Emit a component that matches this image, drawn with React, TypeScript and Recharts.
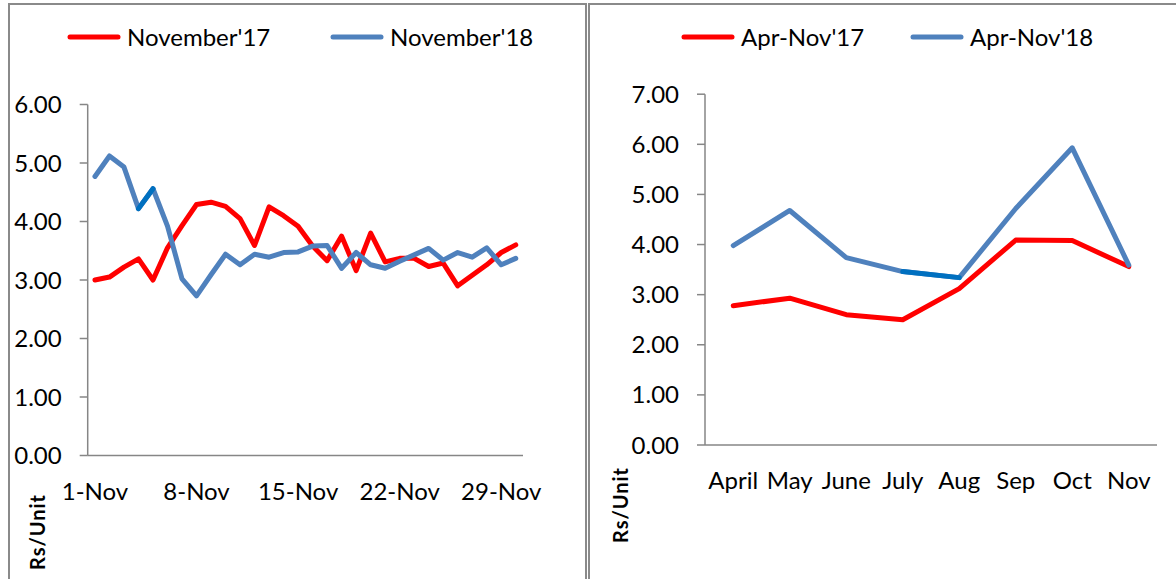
import React from 'react';
import { LineChart, Line, XAxis, YAxis, Legend } from 'recharts';

// daily tariff, November (Rs/Unit)
const novDays = [
    '1-Nov', '2-Nov', '3-Nov', '4-Nov', '5-Nov', '6-Nov', '7-Nov', '8-Nov', '9-Nov', '10-Nov',
    '11-Nov', '12-Nov', '13-Nov', '14-Nov', '15-Nov', '16-Nov', '17-Nov', '18-Nov', '19-Nov', '20-Nov',
    '21-Nov', '22-Nov', '23-Nov', '24-Nov', '25-Nov', '26-Nov', '27-Nov', '28-Nov', '29-Nov', '30-Nov'
];
const nov17 = [
    3.00, 3.05, 3.22, 3.36, 3.00, 3.55, 3.93, 4.29, 4.33, 4.26,
    4.05, 3.59, 4.25, 4.10, 3.92, 3.58, 3.33, 3.75, 3.16, 3.80,
    3.31, 3.37, 3.37, 3.23, 3.29, 2.90, 3.08, 3.26, 3.47, 3.60
];
const nov18 = [
    4.77, 5.12, 4.93, 4.22, 4.56, 3.92, 3.02, 2.73, 3.09, 3.44,
    3.26, 3.44, 3.39, 3.47, 3.48, 3.58, 3.59, 3.20, 3.47, 3.26,
    3.20, 3.32, 3.43, 3.54, 3.34, 3.47, 3.39, 3.55, 3.26, 3.37
];
const novTickMarks = [0, 7, 14, 21, 28];
const novYTicks = [0, 1, 2, 3, 4, 5, 6];

// monthly average, April - November
const months = ['April', 'May', 'June', 'July', 'Aug', 'Sep', 'Oct', 'Nov'];
const aprNov17 = [2.78, 2.93, 2.60, 2.50, 3.12, 4.09, 4.08, 3.56];
const aprNov18 = [3.98, 4.68, 3.74, 3.46, 3.34, 4.72, 5.93, 3.59];
const monthTickMarks = [0, 1, 2, 3, 4, 5, 6, 7, 8];
const monthYTicks = [0, 1, 2, 3, 4, 5, 6, 7];

// segment excel drew in a darker blue
const darkSegment = [3, 4];

const AXIS_GREY = '#868686';
const RED = '#FF0000';
const BLUE = '#4F81BD';
const DARK_BLUE = '#0070C0';
const FONT = 'Lato, "Open Sans", sans-serif';

interface Row {
    label: string;
    prev: number;
    curr: number;
    seg: number | null;
}

const buildRows = (labels: string[], prev: number[], curr: number[]): Row[] =>
    labels.map((label, i) => ({
        label,
        prev: prev[i],
        curr: curr[i],
        seg: darkSegment.includes(i) ? curr[i] : null
    }));

const LegendRow = ({ payload, slot }: { payload?: any[]; slot: number }) => (
    <div style={{ display: 'flex', fontFamily: FONT }}>
        {(payload || [])
            .filter((item) => item.type !== 'none')
            .map((item) => (
                <div key={item.value} style={{ width: slot, display: 'flex', alignItems: 'center', whiteSpace: 'nowrap' }}>
                    <svg width={54} height={8}>
                        <line x1={3} y1={4} x2={51} y2={4} stroke={item.color} strokeWidth={5} strokeLinecap="round" />
                    </svg>
                    <span style={{ marginLeft: 6, fontSize: 24, color: '#000', lineHeight: '30px' }}>{item.value}</span>
                </div>
            ))}
    </div>
);

interface PanelProps {
    rows: Row[];
    width: number;
    height: number;
    margin: { top: number; right: number; bottom: number; left: number };
    yTicks: number[];
    tickMarks: number[];
    labelInterval: number;
    names: [string, string];
    legendLeft: number;
    legendSlot: number;
}

const PricePanel: React.FC<PanelProps> = (p) => {
    const yMax = p.yTicks[p.yTicks.length - 1];
    return (
        <LineChart width={p.width} height={p.height} data={p.rows} margin={p.margin}>
            <XAxis
                xAxisId="b_cat"
                dataKey="label"
                type="category"
                scale="band"
                interval={p.labelInterval}
                axisLine={false}
                tickLine={false}
                tickSize={0}
                tickMargin={26}
                height={59}
                tick={{ fill: '#000', fontSize: 24, fontFamily: FONT }}
            />
            <XAxis
                xAxisId="a_marks"
                type="number"
                domain={[0, p.rows.length]}
                ticks={p.tickMarks}
                tick={false}
                tickSize={8}
                height={1}
                allowDataOverflow
                axisLine={{ stroke: AXIS_GREY, strokeWidth: 1.5 }}
                tickLine={{ stroke: AXIS_GREY, strokeWidth: 1.5 }}
            />
            <YAxis
                domain={[0, yMax]}
                ticks={p.yTicks}
                width={80}
                tickSize={8}
                tickMargin={18}
                axisLine={{ stroke: AXIS_GREY, strokeWidth: 1.5 }}
                tickLine={{ stroke: AXIS_GREY, strokeWidth: 1.5 }}
                tickFormatter={(v: number) => v.toFixed(2)}
                tick={{ fill: '#000', fontSize: 24, fontFamily: FONT }}
            />
            <Legend
                layout="horizontal"
                verticalAlign="middle"
                align="center"
                wrapperStyle={{ top: 22, left: p.legendLeft, width: p.legendSlot * 2 }}
                content={(props: any) => <LegendRow payload={props.payload} slot={p.legendSlot} />}
            />
            <Line
                xAxisId="b_cat"
                dataKey="prev"
                name={p.names[0]}
                stroke={RED}
                strokeWidth={5}
                strokeLinejoin="round"
                strokeLinecap="round"
                dot={false}
                activeDot={false}
                isAnimationActive={false}
            />
            <Line
                xAxisId="b_cat"
                dataKey="curr"
                name={p.names[1]}
                stroke={BLUE}
                strokeWidth={5}
                strokeLinejoin="round"
                strokeLinecap="round"
                dot={false}
                activeDot={false}
                isAnimationActive={false}
            />
            <Line
                xAxisId="b_cat"
                dataKey="seg"
                legendType="none"
                stroke={DARK_BLUE}
                strokeWidth={5}
                strokeLinecap="round"
                dot={false}
                activeDot={false}
                isAnimationActive={false}
            />
        </LineChart>
    );
};

const unitLabel = (cx: number, cy: number): React.CSSProperties => ({
    position: 'absolute',
    left: cx,
    top: cy,
    transform: 'translate(-50%, -50%) rotate(-90deg)',
    whiteSpace: 'nowrap',
    fontFamily: FONT,
    fontWeight: 700,
    fontSize: 20,
    letterSpacing: 1,
    color: '#000'
});

const App: React.FC = () => {
    const dailyRows = buildRows(novDays, nov17, nov18);
    const monthlyRows = buildRows(months, aprNov17, aprNov18);

    return (
        <div
            style={{
                position: 'absolute',
                left: 0,
                top: 0,
                width: 1176,
                height: 579,
                overflow: 'hidden',
                background: '#fff',
                fontFamily: FONT
            }}
        >
            <div style={{ position: 'absolute', left: 8, top: 3, width: 579, height: 640, boxSizing: 'border-box', border: '2px solid #8a8a8a' }} />
            <div style={{ position: 'absolute', left: 588, top: 3, width: 620, height: 640, boxSizing: 'border-box', border: '2px solid #8a8a8a' }} />

            <div style={{ position: 'absolute', left: 0, top: 0 }}>
                <PricePanel
                    rows={dailyRows}
                    width={587}
                    height={579}
                    margin={{ top: 104.5, right: 64, bottom: 63.5, left: 7.7 }}
                    yTicks={novYTicks}
                    tickMarks={novTickMarks}
                    labelInterval={6}
                    names={["November'17", "November'18"]}
                    legendLeft={67}
                    legendSlot={263}
                />
            </div>
            <div style={{ position: 'absolute', left: 588, top: 0 }}>
                <PricePanel
                    rows={monthlyRows}
                    width={588}
                    height={579}
                    margin={{ top: 94.2, right: 19, bottom: 74, left: 37 }}
                    yTicks={monthYTicks}
                    tickMarks={monthTickMarks}
                    labelInterval={0}
                    names={["Apr-Nov'17", "Apr-Nov'18"]}
                    legendLeft={93}
                    legendSlot={229}
                />
            </div>

            <div style={unitLabel(37, 532)}>Rs/Unit</div>
            <div style={unitLabel(620, 505)}>Rs/Unit</div>
        </div>
    );
};

export default App;
